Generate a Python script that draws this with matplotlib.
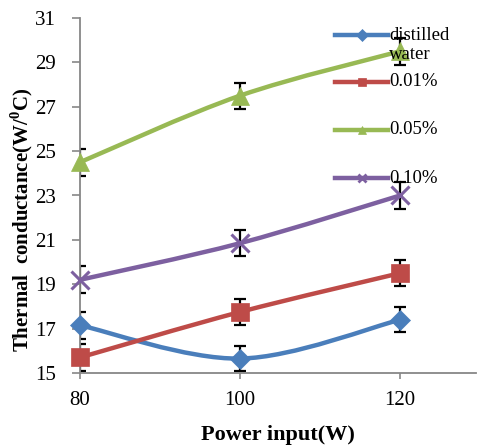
import matplotlib
matplotlib.use("Agg")
import matplotlib.pyplot as plt
from matplotlib.path import Path
from matplotlib.patches import PathPatch
from matplotlib.lines import Line2D
import numpy as np

plt.rcParams['font.family'] = ['Liberation Serif', 'DejaVu Serif']
plt.rcParams['mathtext.fontset'] = 'custom'
plt.rcParams['mathtext.rm'] = 'Liberation Serif'
plt.rcParams['mathtext.bf'] = 'Liberation Serif:bold'

# Power input (W)
power = [80, 100, 120]

# Thermal conductance (W/°C) for each working fluid
distilled_water = [17.15, 15.65, 17.4]
conc_001 = [15.7, 17.75, 19.5]
conc_005 = [24.5, 27.5, 29.5]
conc_010 = [19.2, 20.85, 23.0]

# Error bar half-widths
err_distilled = [0.6, 0.56, 0.56]
err_001 = [0.6, 0.58, 0.6]
err_005 = [0.6, 0.58, 0.6]
err_010 = [0.6, 0.58, 0.6]

labels = ["distilled\nwater", "0.01%", "0.05%", "0.10%"]
colors = ["#4A7EBB", "#BE4B48", "#98B954", "#7D60A0"]
markers = ["D", "s", "^", "x"]
msizes = [10, 13, 13, 13]

series = [distilled_water, conc_001, conc_005, conc_010]
errors = [err_distilled, err_001, err_005, err_010]


def smooth_path(xs, ys):
    """Cubic Bezier path through the points (Catmull-Rom style smoothing)."""
    pts = np.column_stack([xs, ys]).astype(float)
    ext = np.vstack([pts[0], pts, pts[-1]])
    verts = [pts[0]]
    codes = [Path.MOVETO]
    for i in range(len(pts) - 1):
        p0, p1, p2, p3 = ext[i], ext[i + 1], ext[i + 2], ext[i + 3]
        c1 = p1 + (p2 - p0) / 6.0
        c2 = p2 - (p3 - p1) / 6.0
        verts += [c1, c2, p2]
        codes += [Path.CURVE4] * 3
    return Path(verts, codes)


fig = plt.figure(figsize=(4.78, 4.48), dpi=100)
W, H = 478, 448
ax = fig.add_axes([80 / W, (H - 373) / H, 396 / W, 355 / H])

for ys, es, c, m, ms in zip(series, errors, colors, markers, msizes):
    ax.errorbar(power, ys, yerr=es, fmt='none', ecolor='black',
                elinewidth=1.6, capsize=4.3, capthick=1.6, zorder=2)
    ax.add_patch(PathPatch(smooth_path(power, ys), facecolor='none',
                           edgecolor=c, lw=3.2, capstyle='round',
                           joinstyle='round', zorder=3))
    ax.plot(power, ys, linestyle='none', marker=m, markersize=ms,
            color=c, markeredgewidth=2.2 if m == 'x' else 0.5,
            markeredgecolor=c, zorder=4, clip_on=False)

ax.set_xlim(80, 129.5)
ax.set_ylim(15, 31)
ax.set_xticks([80, 100, 120])
ax.set_yticks(np.arange(15, 32, 2))

for side in ['top', 'right']:
    ax.spines[side].set_visible(False)
for side in ['left', 'bottom']:
    ax.spines[side].set_color('#878787')
    ax.spines[side].set_linewidth(1.3)

ax.tick_params(axis='y', direction='out', length=5.5, width=1.2,
               color='#878787', pad=12, labelsize=15)
ax.tick_params(axis='x', direction='out', length=4, width=1.2,
               color='#878787', pad=9, labelsize=15)

ax.set_xlabel("Power input(W)", fontsize=16, fontweight='bold', labelpad=11)
ax.set_ylabel(r"Thermal  conductance(W/$^{\mathbf{0}}$C)", fontsize=15,
              fontweight='bold')
ax.yaxis.set_label_coords(-0.113, 0.43)

# Legend drawn in the upper right of the plot area
leg_y = [0.952, 0.820, 0.685, 0.549]
for yy, lab, c, m in zip(leg_y, labels, colors, markers):
    ax.add_line(Line2D([0.644, 0.778], [yy, yy], transform=ax.transAxes,
                       color=c, lw=3.2, clip_on=False, zorder=6))
    ax.add_line(Line2D([0.711], [yy], transform=ax.transAxes, color=c,
                       marker=m, markersize=6,
                       markeredgewidth=2 if m == 'x' else 0.5,
                       clip_on=False, zorder=6))
    if '\n' in lab:
        ax.text(0.781, yy + 0.024, lab, transform=ax.transAxes, fontsize=13.5,
                va='top', ha='left', linespacing=1.2, zorder=7)
    else:
        ax.text(0.781, yy, lab, transform=ax.transAxes, fontsize=13.5,
                va='center', ha='left', zorder=7)

fig.savefig("out.png", dpi=100)
